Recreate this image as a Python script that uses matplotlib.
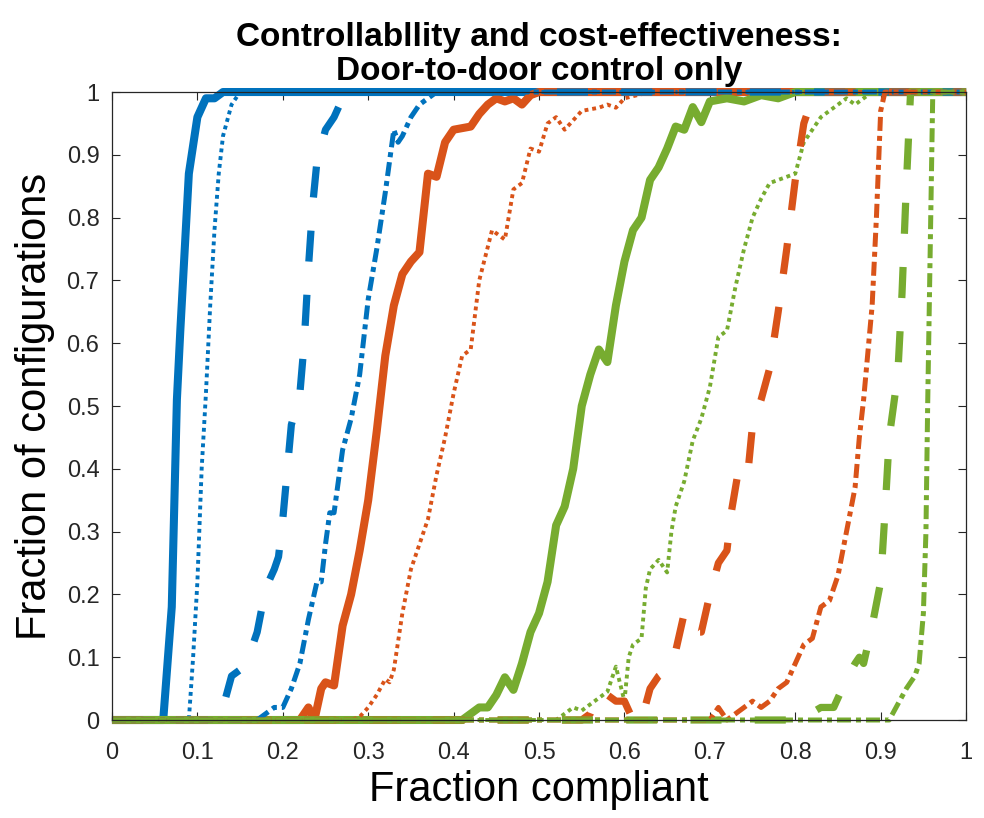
import numpy as np
import matplotlib
matplotlib.use("Agg")
import matplotlib.pyplot as plt

plt.rcParams['font.family'] = ['Liberation Sans', 'DejaVu Sans']

# CDF curves (x = fraction compliant, y = fraction of configurations)
blue_solid_x = [0, 0.06, 0.07, 0.076, 0.08, 0.09, 0.10, 0.11, 0.12, 0.13, 1.0]
blue_solid_y = [0, 0, 0.18, 0.51, 0.62, 0.87, 0.96, 0.99, 0.99, 1.0, 1.0]

blue_dot_x = [0, 0.09, 0.095, 0.10, 0.105, 0.11, 0.115, 0.12, 0.125, 0.13, 0.14, 0.15, 1.0]
blue_dot_y = [0, 0, 0.10, 0.22, 0.40, 0.52, 0.66, 0.78, 0.87, 0.93, 0.98, 1.0, 1.0]

blue_dash_x = [0, 0.12, 0.13, 0.14, 0.15, 0.16, 0.17, 0.18, 0.19, 0.195, 0.20, 0.21, 0.22,
               0.225, 0.23, 0.235, 0.24, 0.25, 0.26, 0.27, 0.28, 1.0]
blue_dash_y = [0, 0, 0.02, 0.07, 0.08, 0.10, 0.14, 0.21, 0.24, 0.26, 0.32, 0.47, 0.52,
               0.60, 0.72, 0.82, 0.89, 0.94, 0.96, 0.99, 1.0, 1.0]

blue_dashdot_x = [0, 0.17, 0.18, 0.19, 0.20, 0.21, 0.22, 0.23, 0.24, 0.245, 0.25, 0.255, 0.26,
                  0.27, 0.28, 0.29, 0.30, 0.31, 0.32, 0.33, 0.335, 0.34, 0.35, 0.36, 0.37, 0.38, 1.0]
blue_dashdot_y = [0, 0, 0.01, 0.02, 0.02, 0.05, 0.09, 0.16, 0.22, 0.22, 0.28, 0.33, 0.33,
                  0.43, 0.48, 0.55, 0.67, 0.75, 0.84, 0.94, 0.92, 0.93, 0.96, 0.98, 0.99, 1.0, 1.0]

orange_solid_x = [0, 0.22, 0.23, 0.237, 0.245, 0.25, 0.26, 0.27, 0.28, 0.29, 0.30, 0.31, 0.32,
                  0.33, 0.34, 0.35, 0.36, 0.37, 0.38, 0.39, 0.40, 0.42, 0.43, 0.44, 0.45, 0.46,
                  0.47, 0.48, 0.49, 0.50, 1.0]
orange_solid_y = [0, 0, 0.02, 0.0, 0.05, 0.06, 0.055, 0.15, 0.20, 0.27, 0.35, 0.46, 0.58,
                  0.66, 0.71, 0.73, 0.745, 0.87, 0.865, 0.92, 0.94, 0.945, 0.965, 0.98, 0.99, 0.985,
                  0.99, 0.98, 0.995, 1.0, 1.0]

orange_dot_x = [0, 0.28, 0.29, 0.30, 0.31, 0.32, 0.325, 0.33, 0.34, 0.35, 0.36, 0.37, 0.38,
                0.39, 0.40, 0.41, 0.42, 0.43, 0.445, 0.46, 0.47, 0.48, 0.49, 0.50, 0.51, 0.52,
                0.53, 0.55, 0.57, 0.58, 0.59, 0.60, 0.63, 1.0]
orange_dot_y = [0, 0, 0.005, 0.02, 0.04, 0.065, 0.06, 0.08, 0.17, 0.24, 0.28, 0.32, 0.39,
                0.45, 0.52, 0.58, 0.59, 0.70, 0.78, 0.765, 0.845, 0.855, 0.91, 0.905, 0.95, 0.96,
                0.94, 0.97, 0.975, 0.98, 0.975, 0.99, 1.0, 1.0]

orange_dash_x = [0, 0.55, 0.56, 0.57, 0.58, 0.59, 0.60, 0.61, 0.62, 0.63, 0.64, 0.65, 0.66,
                 0.67, 0.68, 0.69, 0.70, 0.71, 0.72, 0.725, 0.735, 0.745, 0.75, 0.76, 0.77,
                 0.78, 0.79, 0.80, 0.81, 0.82, 0.83, 1.0]
orange_dash_y = [0, 0, 0.01, 0.045, 0.04, 0.03, 0.03, 0.0, 0.0, 0.05, 0.07, 0.08, 0.11,
                 0.17, 0.14, 0.14, 0.20, 0.25, 0.27, 0.33, 0.41, 0.40, 0.47, 0.51, 0.56,
                 0.65, 0.75, 0.86, 0.95, 0.99, 1.0, 1.0]

orange_dashdot_x = [0, 0.70, 0.71, 0.72, 0.73, 0.75, 0.76, 0.77, 0.78, 0.79, 0.80, 0.81, 0.82,
                    0.83, 0.84, 0.85, 0.86, 0.87, 0.875, 0.88, 0.89, 0.895, 0.90, 0.905, 1.0]
orange_dashdot_y = [0, 0, 0.02, 0.0, 0.01, 0.03, 0.02, 0.03, 0.05, 0.06, 0.09, 0.12, 0.13,
                    0.18, 0.19, 0.23, 0.30, 0.37, 0.45, 0.51, 0.66, 0.80, 0.97, 1.0, 1.0]

green_solid_x = [0, 0.41, 0.42, 0.43, 0.44, 0.45, 0.46, 0.47, 0.48, 0.49, 0.50, 0.51, 0.52,
                 0.53, 0.54, 0.55, 0.56, 0.57, 0.58, 0.59, 0.60, 0.61, 0.62, 0.63, 0.64, 0.65,
                 0.66, 0.67, 0.68, 0.69, 0.70, 0.72, 0.74, 0.76, 0.78, 0.80, 1.0]
green_solid_y = [0, 0, 0.01, 0.02, 0.02, 0.04, 0.068, 0.048, 0.09, 0.14, 0.17, 0.22, 0.31,
                 0.34, 0.40, 0.50, 0.55, 0.59, 0.57, 0.66, 0.73, 0.78, 0.80, 0.86, 0.88, 0.91,
                 0.945, 0.94, 0.976, 0.952, 0.985, 0.99, 0.985, 0.995, 0.99, 1.0, 1.0]

green_dot_x = [0, 0.52, 0.53, 0.54, 0.55, 0.56, 0.57, 0.58, 0.59, 0.60, 0.605, 0.61, 0.62,
               0.625, 0.63, 0.64, 0.65, 0.655, 0.66, 0.67, 0.68, 0.69, 0.70, 0.71, 0.72, 0.73,
               0.74, 0.75, 0.76, 0.77, 0.78, 0.79, 0.80, 0.81, 0.82, 0.83, 0.84, 0.86, 0.87,
               0.89, 1.0]
green_dot_y = [0, 0, 0.01, 0.02, 0.015, 0.025, 0.035, 0.045, 0.085, 0.03, 0.10, 0.12, 0.13,
               0.21, 0.24, 0.255, 0.235, 0.30, 0.34, 0.38, 0.445, 0.48, 0.53, 0.61, 0.62, 0.69,
               0.75, 0.80, 0.83, 0.855, 0.86, 0.865, 0.87, 0.92, 0.94, 0.96, 0.97, 0.99, 0.98,
               1.0, 1.0]

green_dash_x = [0, 0.80, 0.81, 0.82, 0.83, 0.845, 0.86, 0.87, 0.875, 0.88, 0.89, 0.90,
                0.905, 0.91, 0.92, 0.925, 0.93, 0.935, 1.0]
green_dash_y = [0, 0, 0.005, 0.012, 0.02, 0.02, 0.065, 0.09, 0.10, 0.09, 0.15, 0.22,
                0.33, 0.45, 0.55, 0.68, 0.85, 1.0, 1.0]

green_dashdot_x = [0, 0.91, 0.92, 0.93, 0.94, 0.945, 0.95, 0.953, 0.955, 0.958, 0.961, 1.0]
green_dashdot_y = [0, 0, 0.025, 0.05, 0.07, 0.09, 0.17, 0.30, 0.50, 0.75, 1.0, 1.0]

title_lines = ["Controllabllity and cost-effectiveness:", "Door-to-door control only"]
x_ticks = [0, 0.1, 0.2, 0.3, 0.4, 0.5, 0.6, 0.7, 0.8, 0.9, 1]
y_ticks = [0, 0.1, 0.2, 0.3, 0.4, 0.5, 0.6, 0.7, 0.8, 0.9, 1]

BLUE = '#0072BD'
ORANGE = '#D95319'
GREEN = '#77AC30'

# (x, y, colour, style) -- drawn style by style, as in the original
curves = [
    (blue_solid_x, blue_solid_y, BLUE, 'solid'),
    (orange_solid_x, orange_solid_y, ORANGE, 'solid'),
    (green_solid_x, green_solid_y, GREEN, 'solid'),
    (blue_dot_x, blue_dot_y, BLUE, 'dot'),
    (orange_dot_x, orange_dot_y, ORANGE, 'dot'),
    (green_dot_x, green_dot_y, GREEN, 'dot'),
    (blue_dash_x, blue_dash_y, BLUE, 'dash'),
    (orange_dash_x, orange_dash_y, ORANGE, 'dash'),
    (green_dash_x, green_dash_y, GREEN, 'dash'),
    (blue_dashdot_x, blue_dashdot_y, BLUE, 'dashdot'),
    (orange_dashdot_x, orange_dashdot_y, ORANGE, 'dashdot'),
    (green_dashdot_x, green_dashdot_y, GREEN, 'dashdot'),
]

styles = {
    'solid': dict(lw=5.8, ls='-'),
    'dot': dict(lw=2.8, ls=(0, (1.0, 1.0))),
    'dash': dict(lw=5.2, ls=(0, (4.3, 4.6))),
    'dashdot': dict(lw=3.6, ls=(0, (2.8, 1.0, 1.0, 1.0))),
}

fig = plt.figure(figsize=(9.84, 8.18), dpi=100)
ax = fig.add_axes([0.1138, 0.1198, 0.868, 0.7677])

for x, y, c, s in curves:
    ax.plot(x, y, color=c, solid_capstyle='butt', dash_capstyle='butt',
            solid_joinstyle='round', clip_on=False, **styles[s])

ax.set_xlim(0, 1)
ax.set_ylim(0, 1)
ax.set_xticks(x_ticks)
ax.set_yticks(y_ticks)
ax.set_xticklabels([('%g' % v) for v in x_ticks])
ax.set_yticklabels([('%g' % v) for v in y_ticks])
ax.tick_params(direction='in', length=6, width=0.8, colors='#262626', labelsize=17,
               top=True, right=True)
ax.tick_params(axis='x', pad=16)
ax.tick_params(axis='y', pad=9)
for sp in ax.spines.values():
    sp.set_color('#262626')
    sp.set_linewidth(0.9)

ax.set_xlabel('Fraction compliant', fontsize=30, color='black', labelpad=4)
ax.set_ylabel('Fraction of configurations', fontsize=30, color='black', labelpad=8)
ax.set_title('\n'.join(title_lines), fontsize=24, fontweight='bold', pad=9, linespacing=1.1)

fig.savefig('out.png', dpi=100)
